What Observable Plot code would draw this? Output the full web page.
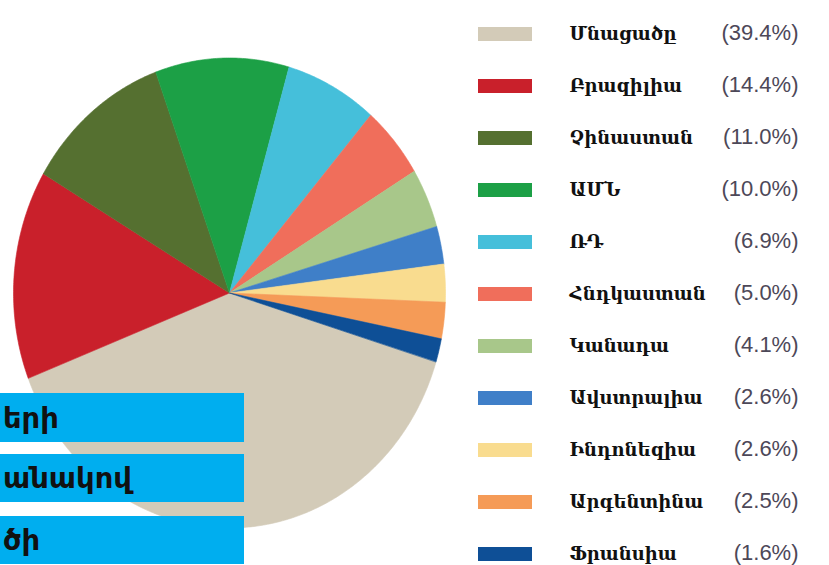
<!DOCTYPE html>
<html>
<head>
<meta charset="utf-8">
<script src="https://cdn.jsdelivr.net/npm/d3@7"></script>
<script src="https://cdn.jsdelivr.net/npm/@observablehq/plot@0.6"></script>
<style>
  html, body { margin: 0; padding: 0; background: #fff; }
  #wrap { position: relative; width: 829px; height: 565px; overflow: hidden; }
  #pie, #legend { position: absolute; top: 0; }
  #pie { left: 0; }
  #legend { left: 460px; }
  .box { position: absolute; left: 0; width: 244px; background: #00AEEF; color: #111;
         font-family: "DejaVu Sans", sans-serif; font-weight: bold; font-size: 29px;
         box-sizing: border-box; padding-left: 3px; display: flex; align-items: center; white-space: nowrap; }
</style>
</head>
<body>
<div id="wrap">
  <div id="pie"></div>
  <div id="legend"></div>
</div>
<script>
// ---- data ----
const countries = ["Մնացածը", "Բրազիլիա", "Չինաստան", "ԱՄՆ", "ՌԴ", "Հնդկաստան", "Կանադա", "Ավստրալիա", "Ինդոնեզիա", "Արգենտինա", "Ֆրանսիա"];
const shares = [39.4, 14.4, 11.0, 10.0, 6.9, 5.0, 4.1, 2.6, 2.6, 2.5, 1.6];
const palette = ["#D3CBB8", "#C9202B", "#557030", "#1CA046", "#45BFDA", "#F06E5B", "#A8C78A", "#3F7FC8", "#F9DC8F", "#F59B57", "#0E4F96"];
const overlayLines = ["երի", "անակով", "ծի"];

// ---- pie geometry from data ----
const rows = countries.map((c, i) => ({country: c, share: shares[i]}));
const start = 107 * Math.PI / 180;
const arcs = d3.pie().sort(null).value(d => d.share).startAngle(start).endAngle(start + 2 * Math.PI)(rows);
const pts = [];
for (const a of arcs) {
  const c = a.data.country;
  const n = Math.max(3, Math.ceil((a.endAngle - a.startAngle) / 0.01));
  pts.push({country: c, x: 0, y: 0});
  for (let k = 0; k <= n; k++) {
    const t = a.startAngle + (a.endAngle - a.startAngle) * k / n;
    pts.push({country: c, x: Math.sin(t), y: Math.cos(t)});
  }
}

const color = {domain: countries, range: palette};

const pie = Plot.plot({
  width: 460, height: 565, margin: 0,
  x: {domain: [-1, 1], range: [13, 445], axis: null},
  y: {domain: [-1, 1], range: [527.5, 57.5], axis: null},
  color,
  marks: [
    Plot.line(pts, {x: "x", y: "y", z: "country", fill: "country", stroke: "country", strokeWidth: 0.6, curve: "linear-closed"})
  ]
});
document.getElementById("pie").append(pie);

const legend = Plot.plot({
  width: 369, height: 565, margin: 0,
  x: {domain: [0, 369], range: [0, 369], axis: null},
  y: {type: "band", domain: countries, range: [2.55, 584.45], padding: 0, axis: null},
  color,
  marks: [
    Plot.barX(rows, {y: "country", x1: 18, x2: 72, fill: "country", insetTop: 19, insetBottom: 19}),
    Plot.text(rows, {y: "country", x: 109, text: "country", textAnchor: "start", fontSize: 18, fontWeight: "bold", fontFamily: "DejaVu Serif, DejaVu Sans, serif", fill: "#111"}),
    Plot.text(rows, {y: "country", x: 338, dy: -2, text: d => `(${d.share.toFixed(1)}%)`, textAnchor: "end", fontSize: 22, fontFamily: "Liberation Sans, Arial, sans-serif", fill: "#4d4858"})
  ]
});
document.getElementById("legend").append(legend);

// overlay caption boxes
const boxTops = [393, 454, 516];
const boxHeights = [49, 48, 48];
overlayLines.forEach((t, i) => {
  const d = document.createElement("div");
  d.className = "box";
  d.style.top = boxTops[i] + "px";
  d.style.height = boxHeights[i] + "px";
  d.textContent = t;
  document.getElementById("wrap").append(d);
});
</script>
</body>
</html>
